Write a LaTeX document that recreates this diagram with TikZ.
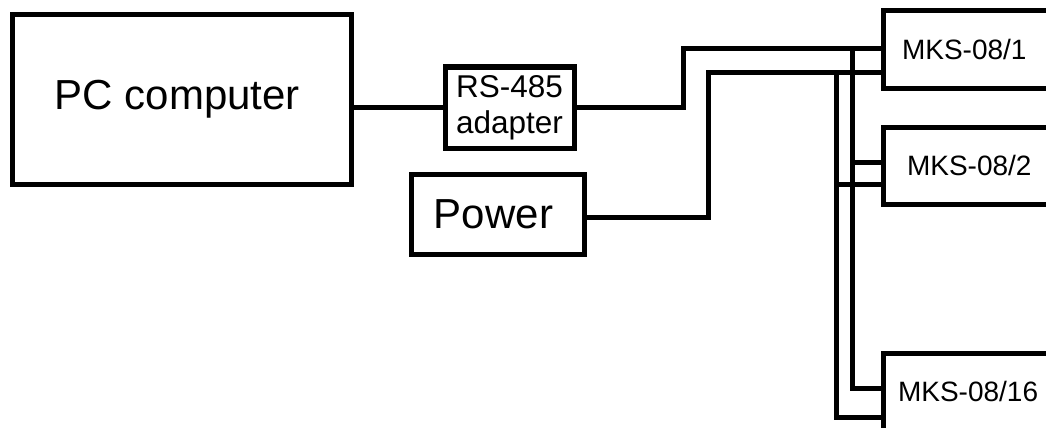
\documentclass[tikz,border=0pt]{standalone}
\usepackage{fontspec}
\setmainfont{Liberation Sans}
\begin{document}
\begin{tikzpicture}[x=1pt,y=-1pt,
  box/.style={draw, line width=5pt, outer sep=0pt, inner sep=0pt},
  wire/.style={line width=5pt},
  bigtext/.style={font=\fontsize{42}{44}\selectfont},
  mks/.style={box, anchor=north west, minimum height=77pt, text width=165pt, align=left, font=\fontsize{28}{30}\selectfont}]
\useasboundingbox (0,0) rectangle (1046,428);
\clip (0,0) rectangle (1046,428);
% blocks
\node[box, bigtext, minimum width=339pt, minimum height=169pt] (pc) at (181.5,99.5) {PC computer\hspace*{8pt}};
\node[box, minimum width=129pt, minimum height=81pt, align=center, font=\fontsize{31.5}{36}\selectfont] (rs) at (509.5,107.5) {RS-485\\adapter};
\node[box, bigtext, minimum width=173pt, minimum height=80pt] (pw) at (497.5,214) {Power\hspace*{8pt}};
\node[mks, inner xsep=19pt] (m1) at (883,11) {MKS-08/1};
\node[mks, inner xsep=24pt] (m2) at (883,127) {MKS-08/2};
\node[mks, inner xsep=15pt] (m16) at (883,353) {MKS-08/16};
% bend points
\coordinate (rb) at (683,49);
\coordinate (pb) at (708,72);
\coordinate (busR) at (852,49);
\coordinate (busP) at (836,72);
\coordinate (m2a) at ([yshift=3pt]m2.west);
\coordinate (m2b) at ([yshift=-19pt]m2.west);
\coordinate (m16a) at ([yshift=3.5pt]m16.west);
\coordinate (m16b) at ([yshift=-25.5pt]m16.west);
% connectors
\draw[wire] (pc.east |- rs.west) -- (rs.west);
\draw[wire] (rs.east) -| (rb) -- (rb -| m1.west);
\draw[wire] ([yshift=-3pt]pw.east) -| (pb) -- (pb -| m1.west);
\draw[wire] (busR) |- (m16a);
\draw[wire] (busR |- m2a) -- (m2a);
\draw[wire] (busP) |- (m16b);
\draw[wire] (busP |- m2b) -- (m2b);
\end{tikzpicture}
\end{document}
